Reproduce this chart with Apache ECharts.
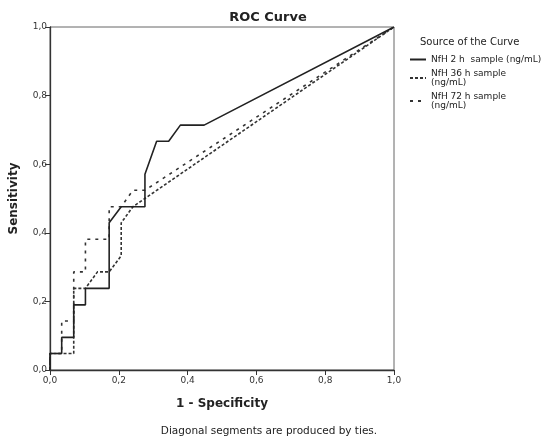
<!DOCTYPE html>
<html>
<head>
<meta charset="utf-8">
<script src="https://cdn.jsdelivr.net/npm/echarts@6/dist/echarts.min.js"></script>
<style>
  html, body { margin: 0; padding: 0; background: #fff; }
  #chart { width: 547px; height: 440px; }
</style>
</head>
<body>
<div id="chart"></div>
<script>
// ROC points (1 - specificity, sensitivity)
const names = ["NfH 2 h  sample (ng/mL)", "NfH 36 h sample\n(ng/mL)", "NfH 72 h sample\n(ng/mL)"];

const fpr2h = [0, 0, 0.034, 0.034, 0.069, 0.069, 0.103, 0.103, 0.172, 0.172, 0.207, 0.276, 0.276, 0.31, 0.345, 0.379, 0.448, 1];
const tpr2h = [0, 0.048, 0.048, 0.095, 0.095, 0.19, 0.19, 0.238, 0.238, 0.429, 0.476, 0.476, 0.571, 0.667, 0.667, 0.714, 0.714, 1];

const fpr36h = [0, 0, 0.069, 0.069, 0.103, 0.138, 0.172, 0.207, 0.207, 0.241, 1];
const tpr36h = [0, 0.048, 0.048, 0.238, 0.238, 0.286, 0.286, 0.333, 0.429, 0.476, 1];

const fpr72h = [0, 0, 0.034, 0.034, 0.069, 0.069, 0.103, 0.103, 0.172, 0.172, 0.207, 0.241, 0.276, 1];
const tpr72h = [0, 0.048, 0.048, 0.143, 0.143, 0.286, 0.286, 0.381, 0.381, 0.476, 0.476, 0.524, 0.524, 1];

const ticks = [0, 0.2, 0.4, 0.6, 0.8, 1];

const font = "DejaVu Sans";
const ink = "#222";

function pairs(xs, ys) {
  return xs.map((x, i) => [x, ys[i]]);
}

function fmt(v) {
  return v.toFixed(1).replace(".", ",");
}

const chart = echarts.init(document.getElementById("chart"));

const axisCommon = {
  type: "value",
  min: 0,
  max: 1,
  interval: 0.2,
  nameLocation: "middle",
  nameTextStyle: { fontFamily: font, fontSize: 12, fontWeight: "bold", color: ink },
  axisLine: { show: true, lineStyle: { color: "#333", width: 1.3 } },
  axisTick: { show: true, inside: false, length: 5, lineStyle: { color: "#333" } },
  axisLabel: {
    fontFamily: font, fontSize: 9, color: "#333", margin: 3,
    formatter: (v) => (ticks.some((t) => Math.abs(t - v) < 1e-6) ? fmt(v) : "")
  },
  splitLine: { show: false }
};

const option = {
  backgroundColor: "#fff",
  animation: false,
  color: ["#333", "#333", "#222"],
  title: [
    {
      text: "ROC Curve",
      left: 263, top: 6, textAlign: "center",
      textStyle: { fontFamily: font, fontSize: 13, fontWeight: "bold", color: ink }
    },
    {
      text: "Source of the Curve",
      left: 415, top: 32,
      textStyle: { fontFamily: font, fontSize: 10, fontWeight: "normal", color: ink }
    },
    {
      text: "Diagonal segments are produced by ties.",
      left: 264, top: 421, textAlign: "center",
      textStyle: { fontFamily: font, fontSize: 10.5, fontWeight: "normal", color: ink }
    }
  ],
  legend: {
    orient: "vertical",
    left: 404, top: 50,
    itemWidth: 16, itemHeight: 8, itemGap: 5,
    selectedMode: false,
    itemStyle: { opacity: 0 },
    textStyle: { fontFamily: font, fontSize: 9, lineHeight: 9, color: ink },
    data: names
  },
  grid: {
    left: 50, right: 153, top: 27, bottom: 70,
    show: true, borderColor: "#666", borderWidth: 1
  },
  xAxis: Object.assign({}, axisCommon, {
    name: "1 - Specificity", nameGap: 28,
    axisLabel: Object.assign({}, axisCommon.axisLabel, { margin: 6 })
  }),
  yAxis: Object.assign({}, axisCommon, { name: "Sensitivity", nameGap: 30 }),
  series: [
    {
      name: names[2], type: "line", data: pairs(fpr72h, tpr72h), symbol: "none", z: 2,
      lineStyle: { color: "#333", width: 1.6, type: [3, 5] }
    },
    {
      name: names[1], type: "line", data: pairs(fpr36h, tpr36h), symbol: "none", z: 3,
      lineStyle: { color: "#333", width: 1.6, type: [3, 2] }
    },
    {
      name: names[0], type: "line", data: pairs(fpr2h, tpr2h), symbol: "none", z: 4,
      lineStyle: { color: ink, width: 1.6, type: "solid" }
    }
  ]
};

chart.setOption(option);
</script>
</body>
</html>
